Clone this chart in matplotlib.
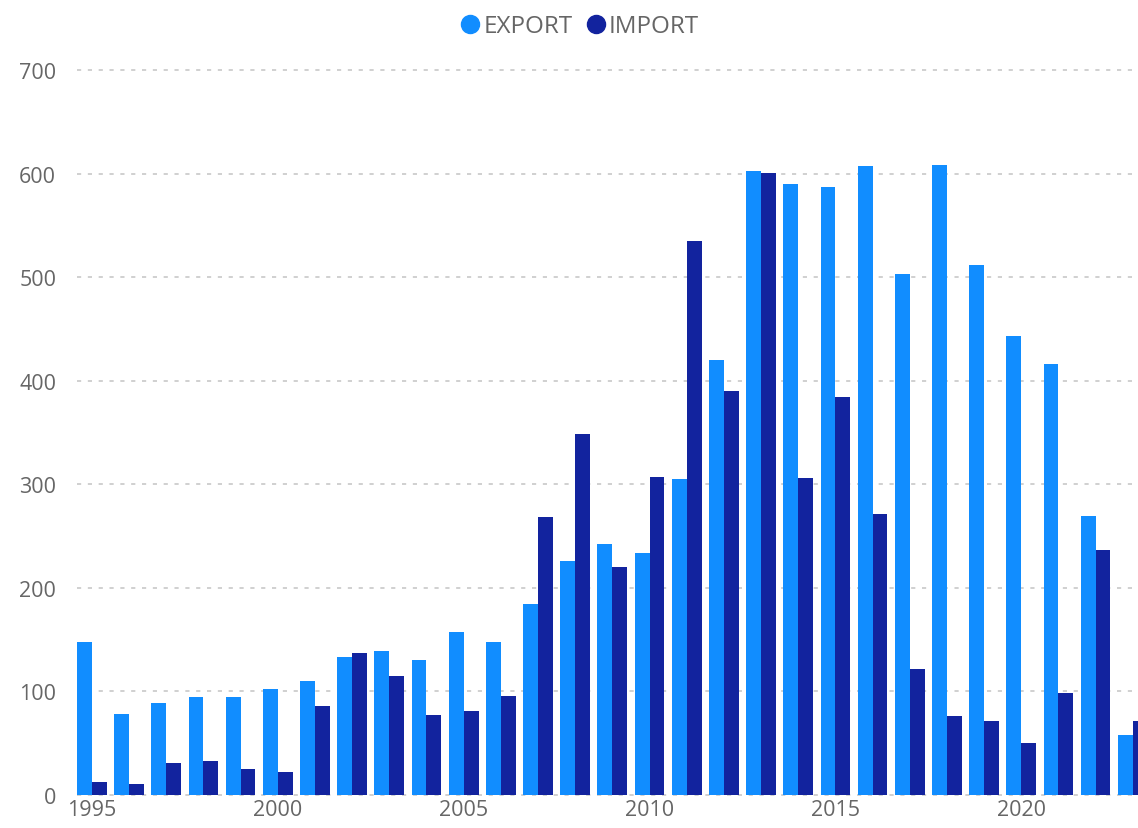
import matplotlib.pyplot as plt
import numpy as np
from matplotlib.lines import Line2D

plt.rcParams['font.family'] = ['Open Sans', 'DejaVu Sans']

years = list(range(1995, 2024))
export = [148, 78, 89, 95, 95, 102, 110, 133, 139, 130, 157, 148, 184, 226, 242,
          234, 305, 420, 602, 590, 587, 607, 503, 608, 512, 443, 416, 269, 58]
imports = [13, 11, 31, 33, 25, 22, 86, 137, 115, 77, 81, 96, 268, 349, 220,
           307, 535, 390, 601, 306, 384, 271, 122, 76, 71, 50, 98, 237, 71]
series_names = ['EXPORT', 'IMPORT']
colors = ['#118DFF', '#12239E']
x_ticks = [1995, 2000, 2005, 2010, 2015, 2020]
y_ticks = [0, 100, 200, 300, 400, 500, 600, 700]

fig = plt.figure(figsize=(11.38, 8.29), dpi=100)
ax = fig.add_axes([0.0677, 0.0398, 1 - 0.0677, 0.8746])

x = np.array(years)
w = 0.4
ax.bar(x - w / 2, export, width=w, color=colors[0], zorder=3)
ax.bar(x + w / 2, imports, width=w, color=colors[1], zorder=3)

ax.set_xlim(1994.6, 2023.14)
ax.set_ylim(0, 700)
ax.set_xticks(x_ticks)
ax.set_yticks(y_ticks)
ax.tick_params(axis='both', length=0, labelsize=15.5, labelcolor='#666666')
ax.tick_params(axis='y', pad=15)
ax.tick_params(axis='x', pad=3)

# dotted gridlines, also at zero
for yv in y_ticks:
    ax.axhline(yv, color='#C8C8C8', linewidth=1.2, linestyle=(0, (2.5, 4)), zorder=1,
               clip_on=False)

for s in ax.spines.values():
    s.set_visible(False)

handles = [Line2D([], [], marker='o', linestyle='', markersize=13, color=c) for c in colors]
fig.legend(handles, series_names, loc='upper center', bbox_to_anchor=(0.51, 1.008), ncol=2,
           frameon=False, fontsize=17.5, handlelength=0.7, handletextpad=0.2,
           columnspacing=0.6, labelcolor='#666666')

fig.savefig('out.png', dpi=100)
